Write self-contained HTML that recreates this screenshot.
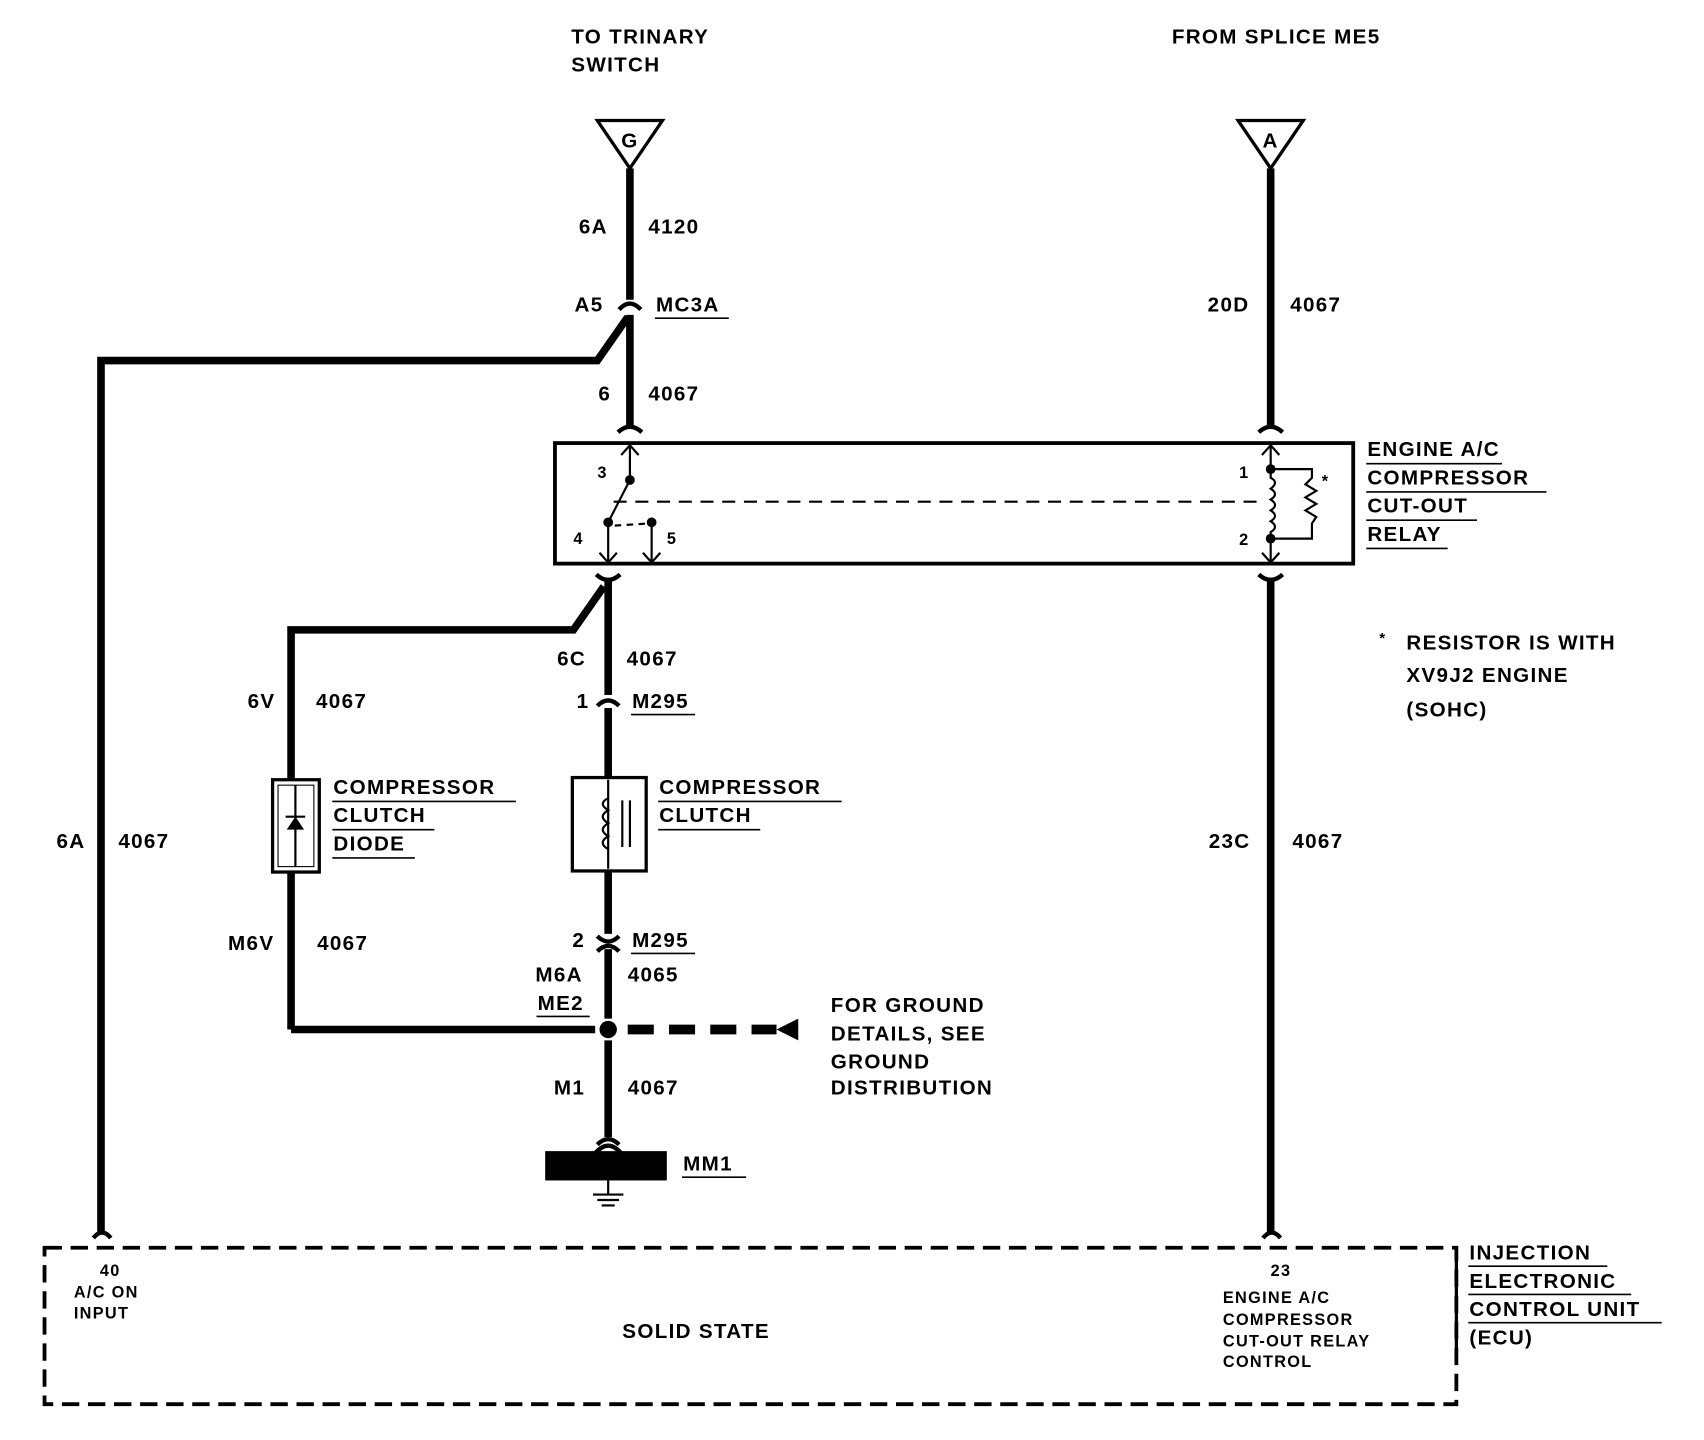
<!DOCTYPE html>
<html><head><meta charset="utf-8"><style>
html,body{margin:0;padding:0;background:#fff}
svg{display:block}
text{font-family:"Liberation Sans",sans-serif;font-weight:bold;fill:#000;letter-spacing:1.2px}
</style></head><body>
<svg width="1704" height="1440" viewBox="0 0 1569 1326" preserveAspectRatio="none" xmlns="http://www.w3.org/2000/svg">
<g font-size="19">
<text x="526" y="40">TO TRINARY</text><text x="526" y="66">SWITCH</text>
<text x="1079" y="40">FROM SPLICE ME5</text>
</g>
<g fill="none" stroke="#000" stroke-width="3">
<polygon points="550,111 610,111 580,155"/>
<polygon points="1140,111 1200,111 1170,155"/>
</g>
<text x="580" y="136" font-size="19" text-anchor="middle">G</text>
<text x="1170" y="136" font-size="19" text-anchor="middle">A</text>
<g fill="none" stroke="#000" stroke-width="7">
<line x1="580" y1="155" x2="580" y2="276"/>
<line x1="580" y1="290" x2="580" y2="392"/>
<polyline points="578,292 550,332 93,332 93,1135"/>
<line x1="1170" y1="155" x2="1170" y2="392"/>
<line x1="560" y1="534" x2="560" y2="640"/>
<polyline points="556,540 528,580 268,580 268,718"/>
<line x1="560" y1="652" x2="560" y2="716"/>
<line x1="268" y1="803" x2="268" y2="948"/>
<line x1="268" y1="948" x2="548" y2="948"/>
<line x1="560" y1="802" x2="560" y2="860"/>
<line x1="560" y1="874" x2="560" y2="938"/>
<line x1="560" y1="958" x2="560" y2="1047"/>
<line x1="1170" y1="534" x2="1170" y2="1135"/>
</g>
<g fill="none" stroke="#000" stroke-width="4">
<path d="M570,285 Q580,274 590,285"/>
<path d="M569,398 Q580,388 591,398"/>
<path d="M1159,398 Q1170,388 1181,398"/>
<path d="M549,529 Q560,539 571,529"/>
<path d="M1159,529 Q1170,539 1181,529"/>
<path d="M550,650 Q560,640 570,650"/>
<path d="M550,862 Q560,872 570,862"/>
<path d="M550,876 Q560,866 570,876"/>
<path d="M550,1054 Q560,1044 570,1054"/>
<path d="M548,1062 Q560,1048 572,1062"/>
<path d="M86,1140 Q94,1130 102,1140"/>
<path d="M1163,1140 Q1171,1130 1179,1140"/>
</g>
<g font-size="19">
<text x="533" y="215">6A</text><text x="597" y="215">4120</text>
<text x="529" y="287">A5</text><text x="604" y="287">MC3A</text>
<text x="551" y="369">6</text><text x="597" y="369">4067</text>
<text x="1112" y="287">20D</text><text x="1188" y="287">4067</text>
<text x="1259" y="420">ENGINE A/C</text>
<text x="1259" y="446">COMPRESSOR</text>
<text x="1259" y="472">CUT-OUT</text>
<text x="1259" y="498">RELAY</text>
<text x="1270" y="592" font-size="14">*</text>
<text x="1295" y="598">RESISTOR IS WITH</text>
<text x="1295" y="628">XV9J2 ENGINE</text>
<text x="1295" y="660">(SOHC)</text>
<text x="513" y="613">6C</text><text x="577" y="613">4067</text>
<text x="531" y="652">1</text><text x="582" y="652">M295</text>
<text x="228" y="652">6V</text><text x="291" y="652">4067</text>
<text x="307" y="731">COMPRESSOR</text><text x="307" y="757">CLUTCH</text><text x="307" y="783">DIODE</text>
<text x="607" y="731">COMPRESSOR</text><text x="607" y="757">CLUTCH</text>
<text x="52" y="781">6A</text><text x="109" y="781">4067</text>
<text x="1113" y="781">23C</text><text x="1190" y="781">4067</text>
<text x="210" y="875">M6V</text><text x="292" y="875">4067</text>
<text x="527" y="872">2</text><text x="582" y="872">M295</text>
<text x="493" y="904">M6A</text><text x="578" y="904">4065</text>
<text x="495" y="930">ME2</text>
<text x="765" y="932">FOR GROUND</text><text x="765" y="958">DETAILS, SEE</text>
<text x="765" y="984">GROUND</text><text x="765" y="1008">DISTRIBUTION</text>
<text x="510" y="1008">M1</text><text x="578" y="1008">4067</text>
<text x="629" y="1078">MM1</text>
<text x="573" y="1232">SOLID STATE</text>
<text x="1353" y="1160">INJECTION</text><text x="1353" y="1186">ELECTRONIC</text>
<text x="1353" y="1212">CONTROL UNIT</text><text x="1353" y="1238">(ECU)</text>
</g>
<g stroke="#000" stroke-width="1.5">
<line x1="603" y1="293" x2="671" y2="293"/>
<line x1="1258" y1="427" x2="1383" y2="427"/>
<line x1="1258" y1="453" x2="1424" y2="453"/>
<line x1="1258" y1="479" x2="1360" y2="479"/>
<line x1="1258" y1="505" x2="1333" y2="505"/>
<line x1="581" y1="658" x2="640" y2="658"/>
<line x1="306" y1="738" x2="475" y2="738"/>
<line x1="306" y1="764" x2="400" y2="764"/>
<line x1="306" y1="790" x2="382" y2="790"/>
<line x1="606" y1="738" x2="775" y2="738"/>
<line x1="606" y1="764" x2="700" y2="764"/>
<line x1="581" y1="878" x2="640" y2="878"/>
<line x1="494" y1="936" x2="543" y2="936"/>
<line x1="628" y1="1084" x2="687" y2="1084"/>
<line x1="1352" y1="1166" x2="1480" y2="1166"/>
<line x1="1352" y1="1192" x2="1502" y2="1192"/>
<line x1="1352" y1="1218" x2="1530" y2="1218"/>
</g>
<rect x="511" y="408" width="735" height="111" fill="none" stroke="#000" stroke-width="3.5"/>
<g fill="none" stroke="#000" stroke-width="2">
<line x1="580" y1="410" x2="580" y2="442"/>
<path d="M572,419 L580,410 L588,419"/>
<line x1="580" y1="442" x2="560" y2="481"/>
<line x1="560" y1="481" x2="560" y2="517"/>
<path d="M552,509 L560,518 L568,509"/>
<line x1="600" y1="481" x2="600" y2="517"/>
<path d="M592,509 L600,518 L608,509"/>
<line x1="565" y1="462" x2="1163" y2="462" stroke-dasharray="12 8"/>
<line x1="566" y1="484" x2="598" y2="482" stroke-dasharray="6 5"/>
<line x1="1170" y1="410" x2="1170" y2="432"/>
<path d="M1162,419 L1170,410 L1178,419"/>
<line x1="1170" y1="496" x2="1170" y2="517"/>
<path d="M1162,509 L1170,518 L1178,509"/>
<path d="M1170,432 L1170,440 Q1178,444 1170,450 Q1178,455 1170,460 Q1178,465 1170,470 Q1178,475 1170,480 Q1178,485 1170,490 L1170,496"/>
<path d="M1170,432 L1208,432 L1208,440 L1202,446 L1212,452 L1202,458 L1212,464 L1202,470 L1212,476 L1208,482 L1208,496 L1170,496"/>
</g>
<g fill="#000">
<circle cx="580" cy="442" r="4.5"/><circle cx="560" cy="481" r="4.5"/><circle cx="600" cy="481" r="4.5"/>
<circle cx="1170" cy="432" r="4.5"/><circle cx="1170" cy="496" r="4.5"/>
</g>
<g font-size="15">
<text x="550" y="440">3</text><text x="528" y="501">4</text><text x="614" y="501">5</text>
<text x="1141" y="440">1</text><text x="1141" y="502">2</text><text x="1217" y="448">*</text>
</g>
<rect x="251" y="718" width="43" height="85" fill="none" stroke="#000" stroke-width="3"/>
<rect x="256" y="723" width="33" height="75" fill="none" stroke="#000" stroke-width="1"/>
<line x1="272" y1="723" x2="272" y2="798" stroke="#000" stroke-width="2"/>
<polygon points="264,764 280,764 272,752" fill="#000"/>
<line x1="263" y1="752" x2="281" y2="752" stroke="#000" stroke-width="2"/>
<rect x="527" y="716" width="68" height="86" fill="none" stroke="#000" stroke-width="3"/>
<g fill="none" stroke="#000" stroke-width="2">
<line x1="560" y1="718" x2="560" y2="800"/>
<path d="M560,735 Q550,740 560,746 Q550,752 560,758 Q550,764 560,770 Q550,776 560,782"/>
<line x1="573" y1="737" x2="573" y2="780"/>
<line x1="580" y1="737" x2="580" y2="780"/>
</g>
<circle cx="560" cy="948" r="8" fill="#000"/>
<line x1="578" y1="948" x2="715" y2="948" stroke="#000" stroke-width="9" stroke-dasharray="24 14"/>
<polygon points="715,948 735,938 735,958" fill="#000"/>
<rect x="502" y="1060" width="112" height="27" fill="#000"/>
<g stroke="#000" stroke-width="2">
<line x1="560" y1="1087" x2="560" y2="1100"/>
<line x1="546" y1="1100" x2="574" y2="1100"/>
<line x1="550" y1="1105" x2="570" y2="1105"/>
<line x1="554" y1="1110" x2="566" y2="1110"/>
</g>
<rect x="41" y="1149" width="1300" height="144" fill="none" stroke="#000" stroke-width="3.5" stroke-dasharray="16 8"/>
<line x1="1341" y1="1149" x2="1341" y2="1250" stroke="#000" stroke-width="3"/>
<g font-size="15">
<text x="92" y="1175">40</text><text x="68" y="1195">A/C ON</text><text x="68" y="1214">INPUT</text>
<text x="1170" y="1175">23</text>
<text x="1126" y="1200">ENGINE A/C</text><text x="1126" y="1220">COMPRESSOR</text>
<text x="1126" y="1240">CUT-OUT RELAY</text><text x="1126" y="1259">CONTROL</text>
</g>
</svg>
</body></html>
